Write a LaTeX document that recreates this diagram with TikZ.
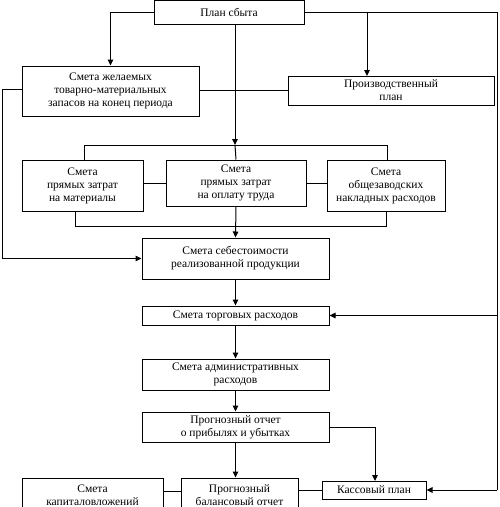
\documentclass[tikz,border=0pt]{standalone}
\usepackage{fontspec}
\setmainfont{Liberation Serif}
\usetikzlibrary{arrows.meta}
\begin{document}
\begin{tikzpicture}[x=1pt,y=-1pt,
  box/.style={draw,line width=1pt,align=center,inner sep=0pt,font=\fontsize{11.5}{13}\selectfont},
  ln/.style={line width=1pt},
  arr/.style={line width=1pt,-{Triangle[length=6pt,width=5.5pt]}}]
\useasboundingbox (0,0) rectangle (499,507);
\clip (0,0) rectangle (499,507);
\node[box,minimum width=150pt,minimum height=24pt] (plan) at (229,12.8) {План сбыта};
\node[box,minimum width=177pt,minimum height=50pt] (zhel) at (110.5,91) {Смета желаемых\\товарно-материальных\\запасов на конец периода};
\node[box,minimum width=206pt,minimum height=29pt] (proiz) at (391,90.5) {Производственный\\план};
\node[box,minimum width=121pt,minimum height=51pt] (mat) at (82.5,185.5) {Смета\\прямых затрат\\на материалы};
\node[box,minimum width=140pt,minimum height=46pt] (lab) at (236,183) {Смета\\прямых затрат\\на оплату труда};
\node[box,minimum width=118pt,minimum height=51pt] (ovh) at (386,185.5) {Смета\\общезаводских\\накладных расходов};
\node[box,minimum width=187pt,minimum height=41pt] (seb) at (235.5,258.5) {Смета себестоимости\\реализованной продукции};
\node[box,minimum width=187pt,minimum height=19pt] (torg) at (235.5,315.5) {Смета торговых расходов};
\node[box,minimum width=187pt,minimum height=31pt] (adm) at (235.5,374.5) {Смета административных\\расходов};
\node[box,minimum width=187pt,minimum height=30pt] (prog) at (235.5,427) {Прогнозный отчет\\о прибылях и убытках};
\node[box,minimum width=141pt,minimum height=34pt] (kap) at (92.5,495) {Смета\\капиталовложений};
\node[box,minimum width=117pt,minimum height=34pt] (bal) at (239.5,495) {Прогнозный\\балансовый отчет};
\node[box,minimum width=104pt,minimum height=18pt] (kas) at (374,490) {Кассовый план};
% coordinates
\coordinate (rtop) at (497,12.8);
\coordinate (rtorg) at (497,315.5);
\coordinate (rkas) at (497,490);
\coordinate (pp) at (367,12.8);
\coordinate (ppb) at (367,76);
\coordinate (c0) at (235,25);
\coordinate (bus) at (235,145);
\coordinate (busL) at (84,145);
\coordinate (busR) at (387,145);
\coordinate (matT) at (84,160);
\coordinate (ovhT) at (387,160);
\coordinate (l1) at (2,89);
\coordinate (l2) at (2,258.5);
\coordinate (matB) at (75,211);
\coordinate (ovhB) at (386,211);
\coordinate (bb) at (75,226);
\coordinate (pk) at (375,427);
\coordinate (kasT) at (375,481);
\coordinate (y90) at (0,90);
\coordinate (y183) at (0,183);
\coordinate (y492) at (0,491.5);
% connectors
\draw[arr] (plan.west) -| (zhel.north);
\draw[ln] (plan.east) -- (rtop) -- (rkas);
\draw[arr] (rkas) -- (kas.east);
\draw[arr] (rtorg) -- (torg.east);
\draw[arr] (pp) -- (ppb);
\draw[arr] (c0) -- (bus);
\draw[ln] (bus) -- (lab.north);
\draw[ln] (matT) -- (busL) -- (busR) -- (ovhT);
\draw[ln] (zhel.east |- y90) -- (proiz.west |- y90);
\draw[ln] (zhel.west |- l1) -- (l1) -- (l2);
\draw[arr] (l2) -- (seb.west);
\draw[ln] (mat.east |- y183) -- (lab.west |- y183);
\draw[ln] (lab.east |- y183) -- (ovh.west |- y183);
\draw[ln] (matB) -- (bb) -| (ovhB);
\draw[arr] (lab.south) -- (seb.north);
\draw[arr] (seb.south) -- (torg.north);
\draw[arr] (torg.south) -- (adm.north);
\draw[arr] (adm.south) -- (prog.north);
\draw[ln] (prog.east) -- (pk);
\draw[arr] (pk) -- (kasT);
\draw[arr] (prog.south) -- (prog.south |- bal.north);
\draw[ln] (kap.east |- y492) -- (bal.west |- y492);
\draw[ln] (bal.east |- kas.west) -- (kas.west);
\end{tikzpicture}
\end{document}
